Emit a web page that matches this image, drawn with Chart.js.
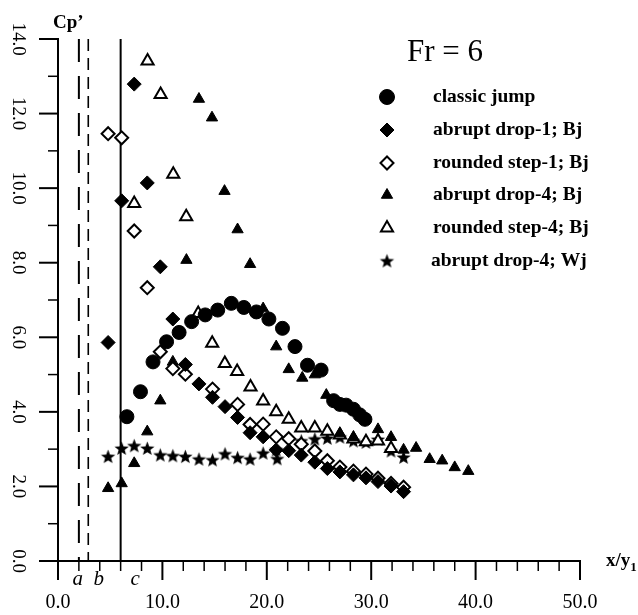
<!DOCTYPE html>
<html>
<head>
<meta charset="utf-8">
<script src="https://cdn.jsdelivr.net/npm/chart.js@4.4.1/dist/chart.umd.min.js"></script>
<style>
  html, body { margin: 0; padding: 0; background: #fff; }
  canvas { display: block; }
</style>
</head>
<body>
<canvas id="cp-chart" width="638" height="615"></canvas>
<script>
// Cp' versus x/y1, Fr = 6
const seriesLabels = ['classic jump', 'abrupt drop-1; Bj', 'rounded step-1; Bj', 'abrupt drop-4; Bj', 'rounded step-4; Bj', 'abrupt drop-4; Wj'];

const classicX = [6.6, 7.9, 9.1, 10.4, 11.6, 12.8, 14.1, 15.3, 16.6, 17.8, 19.0, 20.2, 21.5, 22.7, 23.9, 25.2, 26.4, 27.0, 27.6, 28.3, 28.9, 29.4];
const classicY = [3.87, 4.54, 5.34, 5.88, 6.13, 6.42, 6.60, 6.73, 6.91, 6.80, 6.68, 6.49, 6.24, 5.75, 5.25, 5.12, 4.30, 4.20, 4.18, 4.07, 3.92, 3.80];

const drop1X = [4.8, 6.1, 7.3, 8.55, 9.8, 11.0, 12.2, 13.5, 14.8, 16.0, 17.2, 18.4, 19.65, 20.9, 22.1, 23.3, 24.6, 25.8, 27.0, 28.3, 29.5, 30.65, 31.9, 33.1];
const drop1Y = [5.86, 9.66, 12.79, 10.14, 7.89, 6.49, 5.27, 4.75, 4.39, 4.14, 3.85, 3.44, 3.33, 2.98, 2.96, 2.84, 2.65, 2.48, 2.39, 2.31, 2.23, 2.13, 2.01, 1.86];

const step1X = [4.8, 6.1, 7.3, 8.55, 9.8, 11.0, 12.2, 14.8, 17.2, 18.4, 19.65, 20.9, 22.1, 23.3, 24.6, 25.8, 27.0, 28.3, 29.5, 30.65, 31.9, 33.1];
const step1Y = [11.46, 11.35, 8.85, 7.33, 5.61, 5.16, 5.01, 4.61, 4.20, 3.66, 3.67, 3.33, 3.28, 3.13, 2.95, 2.69, 2.52, 2.41, 2.33, 2.22, 2.08, 1.98];

const drop4X = [4.8, 6.1, 7.3, 8.55, 9.8, 11.0, 12.3, 13.5, 14.75, 15.95, 17.2, 18.4, 19.65, 20.9, 22.1, 23.4, 24.6, 25.7, 27.0, 27.6, 28.3, 30.65, 31.9, 33.1, 34.3, 35.6, 36.8, 38.0, 39.3];
const drop4Y = [1.95, 2.08, 2.62, 3.47, 4.30, 5.34, 8.07, 12.39, 11.89, 9.92, 8.89, 7.96, 6.77, 5.75, 5.14, 4.91, 5.00, 4.45, 3.42, 4.15, 3.32, 3.53, 3.32, 2.98, 3.03, 2.73, 2.69, 2.51, 2.41];

const step4X = [7.3, 8.58, 9.83, 11.04, 12.28, 13.43, 14.77, 15.98, 17.16, 18.44, 19.65, 20.9, 22.1, 23.3, 24.6, 25.8, 27.0, 28.3, 29.5, 30.65, 31.9];
const step4Y = [9.59, 13.41, 12.51, 10.37, 9.23, 6.64, 5.84, 5.30, 5.08, 4.67, 4.29, 4.00, 3.80, 3.57, 3.57, 3.48, 3.38, 3.27, 3.20, 3.22, 3.02];

const wjX = [4.8, 6.1, 7.3, 8.55, 9.8, 11.0, 12.2, 13.5, 14.8, 16.0, 17.2, 18.4, 19.65, 20.9, 21.0, 23.3, 24.6, 25.8, 27.0, 28.3, 29.5, 30.65, 31.9, 33.1];
const wjY = [2.80, 3.02, 3.09, 3.02, 2.84, 2.82, 2.80, 2.73, 2.71, 2.87, 2.77, 2.73, 2.89, 2.98, 2.74, 3.22, 3.27, 3.29, 3.32, 3.22, 3.18, 3.26, 2.95, 2.78];

const xMajorTicks = [0, 10, 20, 30, 40, 50];
const yMajorTicks = [0, 2, 4, 6, 8, 10, 12, 14];

// section markers a, b, c
const refLineX = [2.0, 2.9, 6.0];
const refLabels = ['a', 'b', 'c'];
const refLabelX = [1.9, 3.9, 7.4];

const SERIF = '"Liberation Serif", "Times New Roman", serif';

function pts(xs, ys) {
    return xs.map((x, i) => ({ x: x, y: ys[i] }));
}

function makeStar(outer, inner) {
    const c = document.createElement('canvas');
    c.width = c.height = outer * 2 + 2;
    const g = c.getContext('2d');
    const cx = c.width / 2, cy = c.height / 2 + 0.5;
    g.beginPath();
    for (let i = 0; i < 10; i++) {
        const r = i % 2 === 0 ? outer : inner;
        const a = -Math.PI / 2 + i * Math.PI / 5;
        const px = cx + Math.cos(a) * r, py = cy + Math.sin(a) * r;
        if (i === 0) g.moveTo(px, py); else g.lineTo(px, py);
    }
    g.closePath();
    g.fillStyle = '#000';
    g.fill();
    return c;
}
const starImg = makeStar(7.5, 3.2);

const filled = { backgroundColor: '#000', borderColor: '#000', borderWidth: 1 };
const hollow = { backgroundColor: '#fff', borderColor: '#000', borderWidth: 2 };

const datasets = [
    { label: seriesLabels[0], data: pts(classicX, classicY), pointStyle: 'circle', pointRadius: 7, ...filled },
    { label: seriesLabels[1], data: pts(drop1X, drop1Y), pointStyle: 'rectRot', pointRadius: 7, ...filled },
    { label: seriesLabels[2], data: pts(step1X, step1Y), pointStyle: 'rectRot', pointRadius: 6.5, ...hollow },
    { label: seriesLabels[3], data: pts(drop4X, drop4Y), pointStyle: 'triangle', pointRadius: 6.5, ...filled },
    { label: seriesLabels[4], data: pts(step4X, step4Y), pointStyle: 'triangle', pointRadius: 7, ...hollow },
    { label: seriesLabels[5], data: pts(wjX, wjY), pointStyle: starImg, pointRadius: 7, ...filled }
];

const decor = {
    id: 'decor',
    beforeDatasetsDraw(chart) {
        const { ctx, chartArea, scales: { x } } = chart;
        const widths = [2, 1.6, 2];
        const dashes = [[23, 14], [12, 7], []];
        ctx.save();
        ctx.strokeStyle = '#000';
        refLineX.forEach((v, i) => {
            const px = x.getPixelForValue(v);
            ctx.lineWidth = widths[i];
            ctx.setLineDash(dashes[i]);
            ctx.beginPath();
            ctx.moveTo(px, chartArea.top);
            ctx.lineTo(px, chartArea.bottom);
            ctx.stroke();
        });
        ctx.restore();
    },
    afterDraw(chart) {
        const { ctx, chartArea, scales: { x, y } } = chart;
        ctx.save();
        ctx.strokeStyle = '#000';
        ctx.fillStyle = '#000';

        // tick marks
        for (let v = 0; v <= 50; v += 2) {
            const major = v % 10 === 0;
            const px = x.getPixelForValue(v);
            ctx.lineWidth = major ? 2 : 1.5;
            ctx.beginPath();
            ctx.moveTo(px, chartArea.bottom);
            ctx.lineTo(px, chartArea.bottom + (major ? 19 : 10));
            ctx.stroke();
        }
        for (let v = 0; v <= 14; v += 1) {
            const major = v % 2 === 0;
            const py = y.getPixelForValue(v);
            ctx.lineWidth = major ? 2 : 1.5;
            ctx.beginPath();
            ctx.moveTo(chartArea.left, py);
            ctx.lineTo(chartArea.left - (major ? 19 : 10), py);
            ctx.stroke();
        }

        // tick labels
        ctx.font = '20px ' + SERIF;
        ctx.textAlign = 'center';
        ctx.textBaseline = 'alphabetic';
        xMajorTicks.forEach(v => {
            ctx.fillText(v.toFixed(1), x.getPixelForValue(v), 608);
        });
        ctx.font = '19px ' + SERIF;
        ctx.textBaseline = 'middle';
        yMajorTicks.forEach(v => {
            ctx.save();
            ctx.translate(17.5, y.getPixelForValue(v));
            ctx.rotate(Math.PI / 2);
            ctx.fillText(v.toFixed(1), 0, 0);
            ctx.restore();
        });

        // a, b, c
        ctx.font = 'italic 21px ' + SERIF;
        ctx.textBaseline = 'alphabetic';
        refLabels.forEach((t, i) => {
            ctx.fillText(t, x.getPixelForValue(refLabelX[i]), 585);
        });

        // axis titles
        ctx.textAlign = 'left';
        ctx.font = 'bold 19px ' + SERIF;
        ctx.fillText('Cp\u2019', 53, 28);
        ctx.fillText('x/y', 606, 566);
        const w = ctx.measureText('x/y').width;
        ctx.font = 'bold 13px ' + SERIF;
        ctx.fillText('1', 606 + w, 571);

        // Froude number
        ctx.font = '31px ' + SERIF;
        ctx.fillText('Fr = 6', 407, 61);

        // legend
        const rowY = [97, 130, 163, 195, 228, 261];
        chart.data.datasets.forEach((ds, i) => {
            ctx.fillStyle = ds.backgroundColor;
            ctx.strokeStyle = ds.borderColor;
            ctx.lineWidth = ds.borderWidth;
            Chart.helpers.drawPoint(ctx, {
                pointStyle: ds.pointStyle,
                radius: ds.pointStyle === 'circle' ? 7.5 : ds.pointRadius,
                rotation: 0,
                borderWidth: ds.borderWidth
            }, 387, rowY[i]);
            ctx.fillStyle = '#000';
            ctx.font = 'bold 19.5px ' + SERIF;
            ctx.textBaseline = 'middle';
            ctx.fillText(ds.label, i === 5 ? 431 : 433, rowY[i]);
        });
        ctx.restore();
    }
};

new Chart(document.getElementById('cp-chart').getContext('2d'), {
    type: 'scatter',
    data: { datasets: datasets },
    options: {
        responsive: false,
        animation: false,
        devicePixelRatio: 1,
        layout: { padding: { left: 58, right: 58, top: 39, bottom: 54 } },
        scales: {
            x: {
                type: 'linear', min: 0, max: 50,
                ticks: { display: false },
                grid: { drawOnChartArea: false, drawTicks: false },
                border: { display: true, color: '#000', width: 2 }
            },
            y: {
                type: 'linear', min: 0, max: 14,
                ticks: { display: false },
                grid: { drawOnChartArea: false, drawTicks: false },
                border: { display: true, color: '#000', width: 2 }
            }
        },
        plugins: {
            legend: { display: false },
            tooltip: { enabled: false }
        }
    },
    plugins: [decor]
});
</script>
</body>
</html>
